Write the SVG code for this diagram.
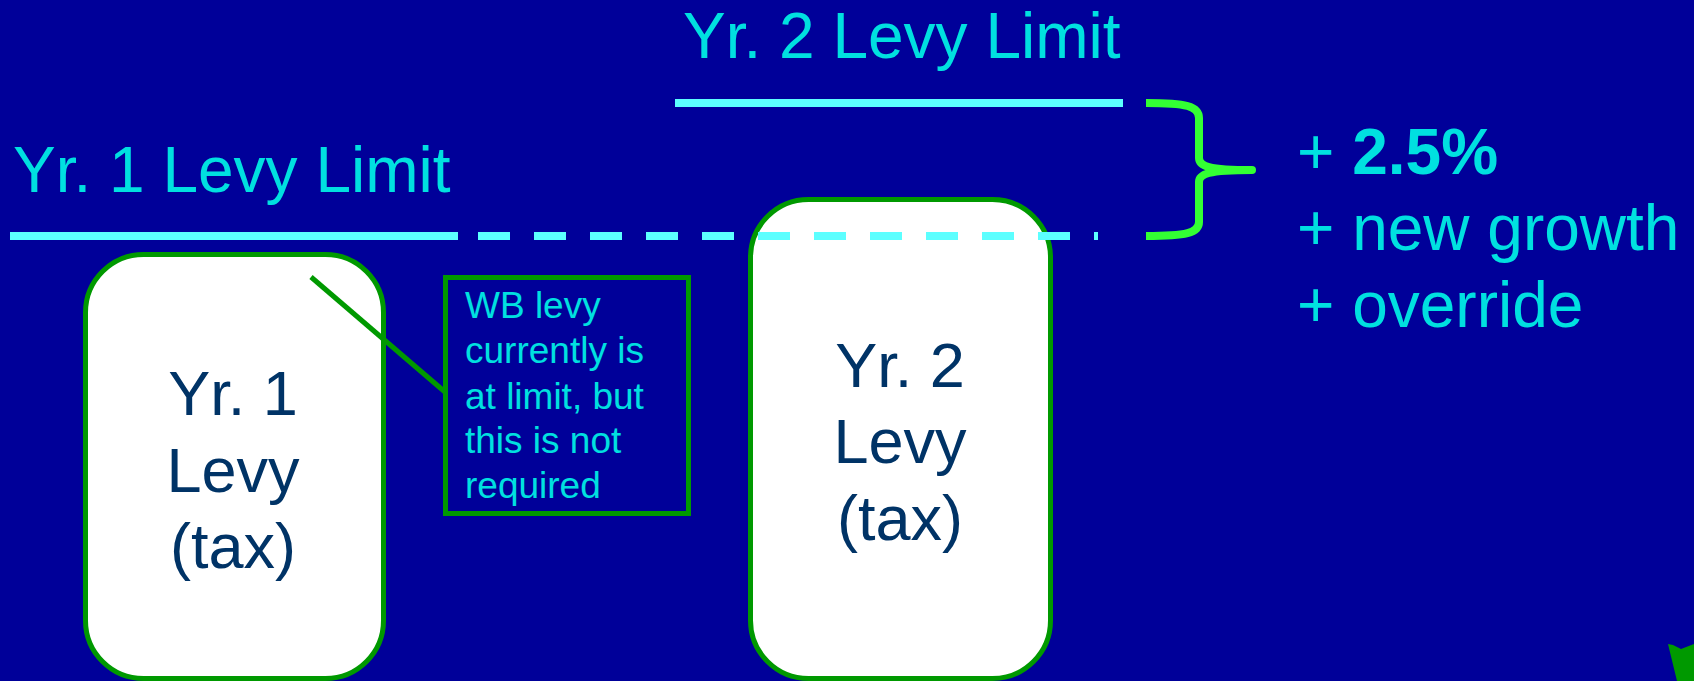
<svg xmlns="http://www.w3.org/2000/svg" width="1694" height="681" viewBox="0 0 1694 681">
  <style>
    .lbl { font-family: "Liberation Sans", Arial, sans-serif; font-size: 64px; fill: #00E0E0; }
    .box { fill: #FFFFFF; stroke: #009900; stroke-width: 5; }
    .boxtxt { font-family: "Liberation Sans", Arial, sans-serif; font-size: 63px; fill: #003366; text-anchor: middle; }
    .note { font-family: "Liberation Sans", Arial, sans-serif; font-size: 37px; fill: #00E0E0; }
    .limit { stroke: #5CFFFF; stroke-width: 8; fill: none; }
  </style>
  <rect x="0" y="0" width="1694" height="681" fill="#000099"/>

  <!-- levy limit labels -->
  <text class="lbl" x="13" y="192">Yr. 1 Levy Limit</text>
  <text class="lbl" x="683" y="58">Yr. 2 Levy Limit</text>

  <!-- year 1 levy box -->
  <g id="yr1-levy">
    <rect class="box" x="85.5" y="254.5" width="298" height="424" rx="58" ry="58"/>
    <text class="boxtxt" x="233" y="415">Yr. 1</text>
    <text class="boxtxt" x="233" y="492">Levy</text>
    <text class="boxtxt" x="233" y="568">(tax)</text>
  </g>

  <!-- year 2 levy box -->
  <g id="yr2-levy">
    <rect class="box" x="750.5" y="199.5" width="300" height="479" rx="58" ry="58"/>
    <text class="boxtxt" x="900" y="387">Yr. 2</text>
    <text class="boxtxt" x="900" y="463">Levy</text>
    <text class="boxtxt" x="900" y="540">(tax)</text>
  </g>

  <!-- callout note -->
  <g id="note">
    <rect x="445.5" y="277.5" width="243" height="236" fill="#000099" stroke="#009900" stroke-width="5"/>
    <text class="note" x="465" y="318">WB levy</text>
    <text class="note" x="465" y="363">currently is</text>
    <text class="note" x="465" y="409">at limit, but</text>
    <text class="note" x="465" y="453">this is not</text>
    <text class="note" x="465" y="498">required</text>
  </g>

  <g id="connectors">
    <!-- callout pointer -->
    <line x1="311" y1="277" x2="445" y2="392" stroke="#009900" stroke-width="5"/>
    <!-- year 1 limit: solid, then dashed across to the brace -->
    <line class="limit" x1="10" y1="236" x2="458" y2="236"/>
    <line class="limit" x1="478" y1="236" x2="1098" y2="236" stroke-dasharray="32 24"/>
    <!-- year 2 limit -->
    <line class="limit" x1="675" y1="103" x2="1123" y2="103"/>
    <!-- curly brace spanning the increase -->
    <path d="M1146,103 C1186,103 1199,106 1199,118 L1199,158 C1199,166 1208,170 1252,170" fill="none" stroke="#33FF33" stroke-width="8" stroke-linecap="butt"/>
    <path d="M1252,170 C1208,170 1199,174 1199,182 L1199,222 C1199,233 1186,236 1146,236" fill="none" stroke="#33FF33" stroke-width="8"/>
    <circle cx="1252" cy="170" r="4" fill="#33FF33"/>
  </g>

  <!-- increase components -->
  <g id="increase">
    <text class="lbl" x="1297" y="174">+ <tspan font-weight="bold">2.5%</tspan></text>
    <text class="lbl" x="1297" y="250">+ new growth</text>
    <text class="lbl" x="1297" y="327">+ override</text>
  </g>

  <!-- corner mark -->
  <polygon points="1668,644 1673,645 1681,649 1694,644 1694,681 1677,681" fill="#009900"/>
</svg>
